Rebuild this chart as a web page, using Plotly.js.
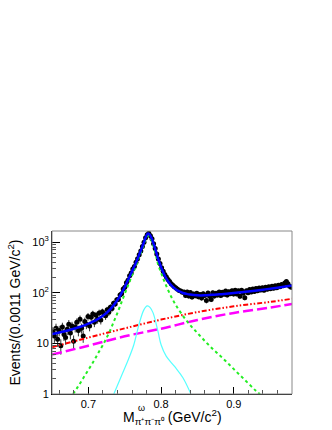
<!DOCTYPE html>
<html>
<head>
<meta charset="utf-8">
<script src="https://cdn.plot.ly/plotly-3.0.1.min.js"></script>
<style>
  body { margin: 0; background: #fff; }
  #plotOmega { width: 332px; height: 430px; }
</style>
</head>
<body>
<div id="plotOmega"></div>
<script>
// measured spectrum, every second bin of 0.0011 GeV
let binStart = 0.6511;
let binStep = 0.0022;
let events = [
  17, 14, 20, 12, 18, 9, 21, 15, 13, 19,
  24, 16, 22, 11, 21, 26, 18, 30, 20, 14,
  27, 24, 34, 22, 33, 38, 26, 36, 30, 40,
  29, 42, 38, 35, 46, 41, 52, 49, 62, 60,
  73, 74, 90, 96, 118, 128, 158, 176, 216, 245,
  296, 332, 402, 468, 566, 672, 818, 1000, 1225, 1405,
  1490, 1330, 1162, 925, 752, 585, 466, 378, 312, 266,
  230, 204, 182, 166, 150, 140, 131, 124, 117, 111,
  108, 102, 104, 88, 104, 86, 101, 82, 95, 87,
  98, 83, 92, 79, 96, 88, 70, 99, 85, 74,
  100, 86, 98, 90, 103, 88, 102, 93, 108, 90,
  105, 96, 110, 94, 112, 95, 109, 85, 112, 98,
  80, 110, 100, 116, 104, 118, 106, 121, 109, 124,
  113, 126, 112, 128, 117, 131, 120, 134, 123, 137,
  126, 140, 131, 146, 138, 155, 166, 150, 134, 128
];

// total fit
let totalX = [0.650, 0.660, 0.670, 0.680, 0.690, 0.700, 0.710, 0.720, 0.730, 0.740,
  0.745, 0.750, 0.755, 0.760, 0.765, 0.770, 0.774, 0.778, 0.780, 0.782,
  0.784, 0.787, 0.790, 0.793, 0.796, 0.800, 0.803, 0.806, 0.810, 0.815,
  0.820, 0.825, 0.830, 0.835, 0.840, 0.850, 0.860, 0.870, 0.880, 0.890,
  0.900, 0.920, 0.940, 0.960, 0.980];
let totalY = [15.3, 16.4, 17.8, 19.5, 21.5, 24.5, 28.5, 35, 47, 72,
  95, 130, 185, 265, 380, 570, 800, 1150, 1360, 1480,
  1420, 1190, 900, 650, 460, 320, 250, 205, 165, 135,
  117, 106, 99, 95, 92, 89, 89, 91, 93, 96,
  99, 106, 115, 126, 139];

// omega signal
let signalX = [0.679, 0.685, 0.690, 0.695, 0.700, 0.705, 0.710, 0.715, 0.720, 0.725,
  0.730, 0.735, 0.740, 0.745, 0.750, 0.755, 0.760, 0.765, 0.770, 0.774,
  0.778, 0.780, 0.782, 0.784, 0.787, 0.790, 0.793, 0.796, 0.800, 0.803,
  0.806, 0.810, 0.815, 0.820, 0.830, 0.840, 0.850, 0.860, 0.870, 0.880,
  0.890, 0.900, 0.910, 0.920, 0.930, 0.936];
let signalY = [1.0, 1.35, 1.75, 2.3, 3.0, 3.9, 5.2, 7.0, 9.3, 12.8,
  18, 27, 40, 62, 95, 145, 220, 330, 510, 730,
  1060, 1250, 1340, 1270, 1050, 780, 540, 360, 250, 190,
  150, 110, 78, 58, 35, 23, 16, 11.2, 8.0, 5.9,
  4.3, 3.1, 2.24, 1.62, 1.17, 1.0];

// peaking background
let peakX = [0.735, 0.745, 0.755, 0.7625, 0.7694, 0.7763, 0.781, 0.785, 0.789, 0.7958,
  0.800, 0.807, 0.8185, 0.830, 0.841];
let peakY = [1.0, 2.2, 4.8, 9.4, 23, 46, 55, 51, 40, 17,
  9.4, 5.6, 3.5, 2.1, 1.0];

// smooth backgrounds
let bkgX = [0.65, 0.70, 0.75, 0.80, 0.85, 0.90, 0.95, 0.98];
let bkgRed = [8.4, 13.0, 19.8, 29.5, 41.5, 54, 66, 76];
let bkgMagenta = [6.0, 9.0, 13.8, 19.5, 29, 40, 51, 60];

let yTicks = [1, 10, 100, 1000];
let yTickText = ['1', '10', '10<sup>2</sup>', '10<sup>3</sup>'];

Plotly.newPlot("plotOmega", new function() {

  let graph = [{
    type: 'scatter',
    x0: binStart,
    dx: binStep,
    y: events,
    mode: 'markers',
    marker: { color: 'black', size: 5 },
    error_y: { type: 'sqrt', color: 'black', thickness: 0.8, width: 0 },
    showlegend: false
  }, {
    type: 'scatter',
    x: bkgX,
    y: bkgRed,
    mode: 'lines',
    line: { color: '#ff0000', width: 2, dash: '5px,2px,1.5px,2px,1.5px,2px', shape: 'spline' }
  }, {
    type: 'scatter',
    x: bkgX,
    y: bkgMagenta,
    mode: 'lines',
    line: { color: '#ff00ff', width: 2.5, dash: '10px,4px', shape: 'spline' }
  }, {
    type: 'scatter',
    x: signalX,
    y: signalY,
    mode: 'lines',
    line: { color: '#22ee22', width: 2, dash: 'dot', shape: 'spline' }
  }, {
    type: 'scatter',
    x: peakX,
    y: peakY,
    mode: 'lines',
    line: { color: '#55ffff', width: 1.2, shape: 'spline' }
  }, {
    type: 'scatter',
    x: totalX,
    y: totalY,
    mode: 'lines',
    line: { color: '#0000ff', width: 2.5, shape: 'spline' }
  }];

  let layout = {
    width: 332,
    height: 430,
    showlegend: false,
    paper_bgcolor: 'white',
    plot_bgcolor: 'white',
    margin: { l: 52, r: 40, t: 231, b: 36 },
    font: { family: 'Liberation Sans, Arial, sans-serif', color: 'black' },
    xaxis: {
      range: [0.65, 0.98],
      tickvals: [0.7, 0.8, 0.9],
      ticktext: ['0.7', '0.8', '0.9'],
      ticks: 'inside',
      ticklen: 7,
      tickcolor: 'black',
      minor: { dtick: 0.02, tick0: 0.64, ticks: 'inside', ticklen: 4, tickcolor: '#555' },
      showgrid: false,
      zeroline: false,
      showline: true,
      linecolor: 'black',
      linewidth: 1,
      tickfont: { size: 11 }
    },
    yaxis: {
      type: 'log',
      range: [0, 3.22],
      tickvals: yTicks,
      ticktext: yTickText,
      ticks: 'inside',
      ticklen: 8,
      tickcolor: 'black',
      minor: {
        tickvals: [2, 3, 4, 5, 6, 7, 8, 9, 20, 30, 40, 50, 60, 70, 80, 90,
          200, 300, 400, 500, 600, 700, 800, 900],
        ticks: 'inside', ticklen: 4, tickcolor: '#555'
      },
      showgrid: false,
      zeroline: false,
      showline: true,
      linecolor: 'black',
      linewidth: 1,
      tickfont: { size: 11 },
      title: { text: 'Events/(0.0011 GeV/c<sup>2</sup>)', font: { size: 14 }, standoff: 8 }
    },
    shapes: [{
      type: 'rect', xref: 'paper', yref: 'paper',
      x0: 0, x1: 1, y0: 0, y1: 1,
      line: { color: '#888', width: 1 }
    }],
    annotations: [{
      text: 'M<sub>π⁺π⁻π⁰</sub> (GeV/c<sup>2</sup>)',
      xref: 'paper', yref: 'paper',
      x: 0.5, y: -0.14,
      xanchor: 'center', yanchor: 'middle',
      showarrow: false,
      font: { size: 14 }
    }, {
      text: 'ω',
      xref: 'paper', yref: 'paper',
      x: 0.372, y: -0.085,
      xanchor: 'center', yanchor: 'middle',
      showarrow: false,
      font: { size: 9 }
    }]
  };

  let config = {
    responsive: false,
    staticPlot: true
  };

  return {
    data: graph,
    layout: layout,
    config: config
  };

});
</script>
</body>
</html>
